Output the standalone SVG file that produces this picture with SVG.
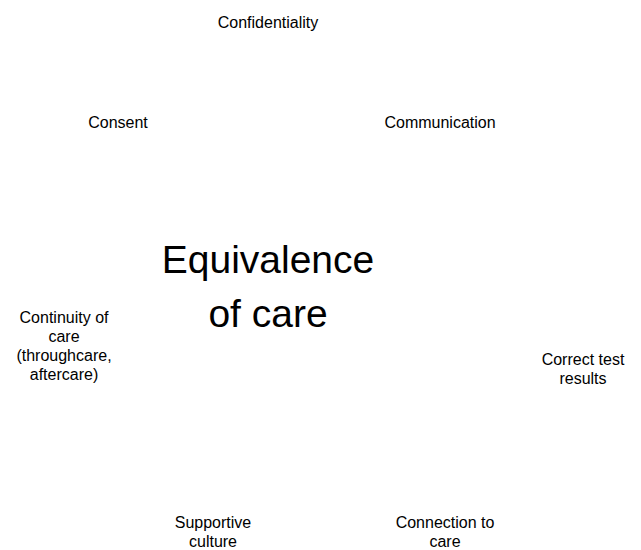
<svg xmlns="http://www.w3.org/2000/svg" width="641" height="550" viewBox="0 0 641 550">
  <style>
    text { font-family: "Liberation Sans", Arial, sans-serif; fill: #000; text-anchor: middle; }
    .lbl { font-size: 16px; }
    .hub { font-size: 39px; }
  </style>
  <rect width="641" height="550" fill="#fff"/>
  <g id="connectors"/>
  <g id="hub">
    <text class="hub" x="268" y="273">Equivalence</text>
    <text class="hub" x="268" y="327">of care</text>
  </g>
  <g id="confidentiality">
    <text class="lbl" x="268" y="28">Confidentiality</text>
  </g>
  <g id="consent">
    <text class="lbl" x="118" y="128">Consent</text>
  </g>
  <g id="communication">
    <text class="lbl" x="440" y="128">Communication</text>
  </g>
  <g id="continuity">
    <text class="lbl" x="64" y="323">Continuity of</text>
    <text class="lbl" x="64" y="342">care</text>
    <text class="lbl" x="64" y="361">(throughcare,</text>
    <text class="lbl" x="64" y="380">aftercare)</text>
  </g>
  <g id="results">
    <text class="lbl" x="583" y="365">Correct test</text>
    <text class="lbl" x="583" y="384">results</text>
  </g>
  <g id="culture">
    <text class="lbl" x="213" y="528">Supportive</text>
    <text class="lbl" x="213" y="547">culture</text>
  </g>
  <g id="connection">
    <text class="lbl" x="445" y="528">Connection to</text>
    <text class="lbl" x="445" y="547">care</text>
  </g>
</svg>
